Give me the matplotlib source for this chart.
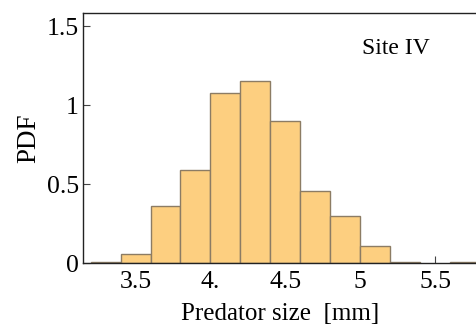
import matplotlib
matplotlib.use("Agg")
import matplotlib.pyplot as plt
import numpy as np

bin_edges = [3.2, 3.4, 3.6, 3.8, 4.0, 4.2, 4.4, 4.6, 4.8, 5.0, 5.2, 5.4, 5.6, 5.8]
pdf_values = [0.007, 0.057, 0.36, 0.59, 1.078, 1.15, 0.90, 0.458, 0.297, 0.11, 0.008, 0.0, 0.008]
xticks = [3.5, 4.0, 4.5, 5.0, 5.5]
xtick_labels = ["3.5", "4.", "4.5", "5", "5.5"]
yticks = [0, 0.5, 1.0, 1.5]
ytick_labels = ["0", "0.5", "1", "1.5"]

plt.rcParams['font.family'] = ['Liberation Serif', 'DejaVu Serif']

fig = plt.figure(figsize=(4.77, 3.26), dpi=100)
ax = fig.add_axes([0.174, 0.193, 0.826, 0.767])

lefts = np.array(bin_edges[:-1])
widths = np.diff(bin_edges)
for l, w, h in zip(lefts, widths, pdf_values):
    if h > 0:
        ax.bar(l, h, width=w, align='edge', color='#fdcf80',
               edgecolor='#8c7c64', linewidth=1.0, zorder=2)

ax.set_xlim(3.149, 5.78)
ax.set_ylim(0, 1.582)
ax.set_xticks(xticks)
ax.set_xticklabels(xtick_labels)
ax.set_yticks(yticks)
ax.set_yticklabels(ytick_labels)
ax.tick_params(direction='in', length=5, width=0.8, labelsize=18.5, color='#444444')
ax.tick_params(axis='y', pad=3)
ax.tick_params(axis='x', pad=6)
ax.spines['right'].set_visible(False)
for s in ['left', 'top', 'bottom']:
    ax.spines[s].set_linewidth(1.0)
    ax.spines[s].set_color('#222222')
ax.spines['bottom'].set_zorder(3)

ax.set_xlabel("Predator size  [mm]", fontsize=18, labelpad=7)
ax.set_ylabel("PDF", fontsize=19.5, labelpad=4)
ax.text(0.708, 0.836, "Site IV", transform=ax.transAxes, fontsize=17)

fig.savefig("out.png", dpi=100)
